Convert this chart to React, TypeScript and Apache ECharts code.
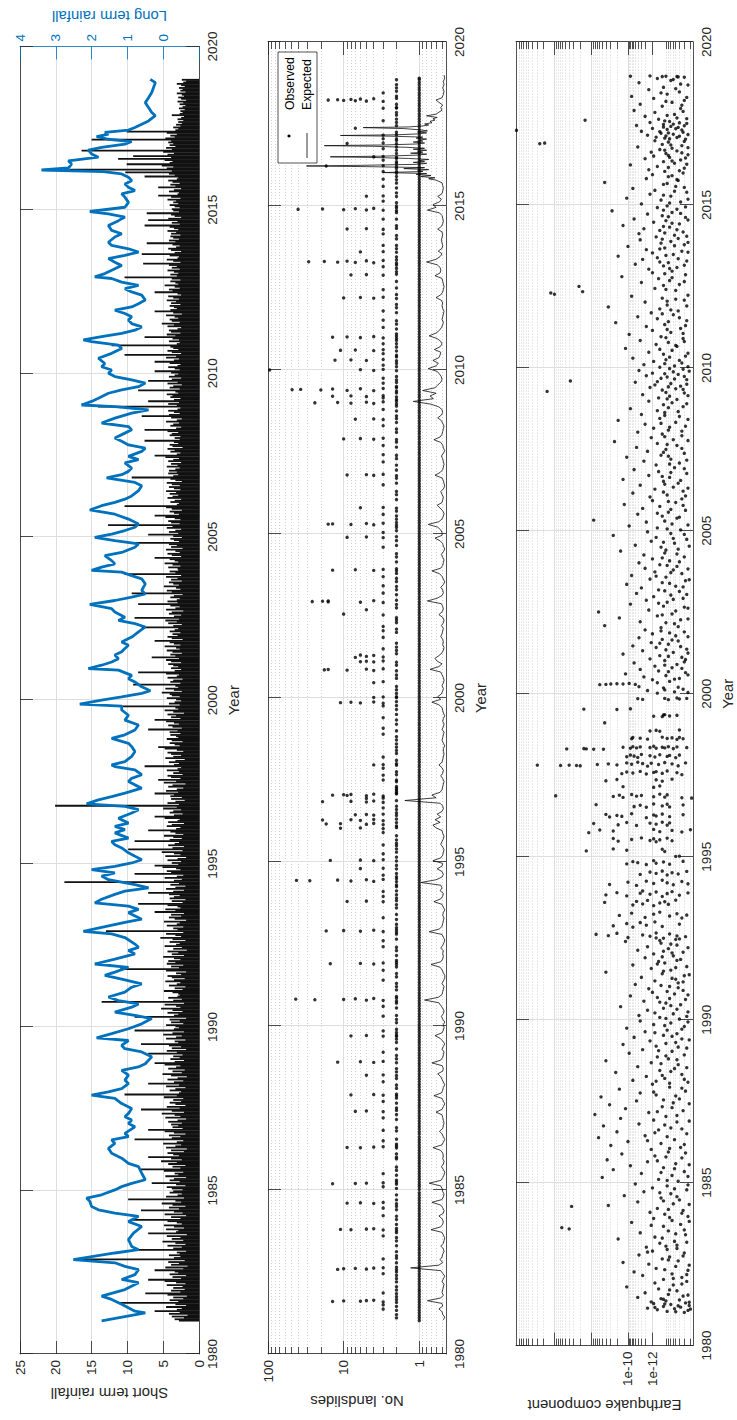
import React, { useEffect, useRef } from "react";
import * as echarts from "echarts";

// ---------- data ----------
const YEAR_MIN = 1980;
const YEAR_MAX = 2020;
const FIRST_YEAR = 1981;

// Short term rainfall: half-monthly peaks, one row per year from 1981
const shortRain: number[][] = [
  [2.8, 3.4, 2.1, 3.8, 1.6, 4.2, 2.7, 6.2, 3.1, 2.4, 4.6, 1.8, 3.3, 11.3, 2.9, 4.1, 2.2, 3.6, 1.7, 4.4, 7.5, 2.6, 3.9, 2.0],
  [3.6, 2.3, 4.5, 1.9, 3.2, 4.8, 7.1, 2.5, 3.7, 1.8, 4.1, 2.9, 3.4, 6.2, 2.2, 4.7, 1.6, 3.9, 2.8, 4.3, 2.0, 16.9, 3.5, 2.6],
  [4.2, 2.7, 3.1, 1.8, 8.5, 3.6, 2.4, 4.4, 1.9, 3.3, 5.1, 2.2, 3.8, 2.6, 4.5, 1.7, 7.1, 3.2, 2.9, 4.6, 2.1, 3.5, 4.9, 2.4],
  [3.1, 4.4, 9.3, 2.6, 3.9, 1.8, 4.8, 2.3, 3.5, 8.1, 2.8, 4.2, 1.9, 3.7, 5.2, 2.5, 3.3, 9.9, 2.1, 4.6, 3.0, 2.4, 4.1, 3.6],
  [2.3, 3.8, 4.5, 1.9, 3.2, 6.6, 2.7, 4.1, 3.5, 1.8, 4.7, 2.9, 3.4, 2.2, 4.9, 8.1, 2.6, 3.7, 1.9, 4.3, 3.1, 5.3, 2.4, 3.9],
  [7.1, 2.8, 3.6, 4.4, 2.1, 3.9, 1.7, 4.6, 3.3, 2.5, 5.0, 3.1, 2.2, 9.0, 3.8, 2.6, 4.2, 1.9, 3.5, 4.8, 7.1, 2.3, 3.7, 2.9],
  [3.9, 2.4, 4.3, 3.0, 1.8, 4.7, 2.6, 3.4, 5.2, 2.1, 3.8, 8.1, 2.7, 4.5, 1.9, 3.3, 4.1, 2.5, 3.6, 2.2, 4.9, 3.1, 10.4, 2.8],
  [2.5, 4.1, 3.3, 1.9, 4.6, 2.8, 7.1, 3.5, 2.2, 4.4, 3.0, 1.7, 3.9, 5.1, 2.4, 3.7, 2.0, 4.3, 3.2, 2.6, 4.8, 6.2, 3.4, 2.1],
  [4.0, 2.7, 3.6, 2.3, 7.1, 3.1, 4.5, 1.8, 3.8, 2.5, 4.2, 8.1, 2.9, 3.4, 1.9, 4.6, 3.2, 2.4, 5.0, 3.7, 2.1, 9.0, 3.5, 2.8],
  [3.3, 4.6, 2.2, 3.9, 2.7, 4.1, 1.8, 9.0, 3.5, 2.9, 4.4, 2.3, 3.7, 5.3, 2.6, 3.2, 4.8, 2.1, 13.6, 3.6, 2.4, 4.3, 3.0, 2.7],
  [2.9, 3.7, 4.9, 2.3, 3.4, 1.9, 4.2, 3.1, 2.6, 4.7, 3.5, 2.0, 3.8, 4.4, 2.5, 3.2, 1.8, 4.6, 11.0, 2.8, 3.9, 2.2, 4.5, 3.3],
  [4.3, 2.6, 3.5, 5.0, 2.1, 3.8, 2.9, 4.4, 1.7, 3.6, 2.4, 4.8, 3.2, 2.7, 4.1, 1.9, 3.7, 5.4, 2.5, 3.3, 4.6, 2.2, 13.0, 3.0],
  [3.6, 2.2, 4.5, 3.1, 2.7, 4.9, 1.8, 3.4, 4.2, 2.5, 3.9, 2.1, 6.2, 3.3, 4.7, 2.6, 3.0, 4.4, 8.5, 2.3, 3.8, 1.9, 4.1, 3.5],
  [2.7, 4.2, 7.1, 3.6, 2.1, 4.6, 3.3, 1.9, 4.0, 2.8, 18.8, 3.5, 2.4, 4.8, 3.1, 2.2, 9.0, 3.9, 4.5, 2.6, 3.2, 5.1, 6.2, 2.9],
  [3.8, 2.5, 4.4, 3.0, 1.8, 4.7, 2.6, 3.5, 5.2, 2.3, 9.9, 3.7, 2.1, 4.3, 3.4, 2.8, 9.0, 4.1, 2.4, 3.6, 4.9, 2.2, 3.3, 4.0],
  [7.1, 3.2, 2.6, 4.5, 3.8, 2.1, 4.3, 3.0, 2.7, 4.8, 6.2, 3.5, 2.3, 4.1, 3.6, 2.5, 5.0, 3.1, 20.1, 2.8, 4.4, 3.3, 2.0, 3.9],
  [2.4, 4.0, 3.5, 6.2, 2.9, 4.6, 3.1, 2.2, 4.3, 3.7, 1.9, 4.9, 3.2, 5.7, 2.6, 3.9, 4.4, 2.3, 3.6, 2.8, 4.5, 3.0, 2.5, 7.6],
  [3.5, 2.8, 4.2, 3.3, 2.0, 4.7, 3.6, 2.5, 3.9, 4.4, 2.2, 3.1, 4.8, 5.7, 2.7, 3.4, 4.1, 2.3, 3.8, 4.5, 2.9, 3.2, 4.0, 2.6],
  [4.1, 3.0, 7.1, 2.4, 3.7, 4.3, 2.8, 3.5, 4.6, 6.2, 2.6, 3.9, 3.2, 4.4, 2.1, 3.6, 4.8, 2.9, 3.3, 11.1, 2.7, 4.2, 3.4, 2.5],
  [3.2, 4.5, 2.7, 3.8, 4.1, 5.2, 2.4, 3.5, 4.7, 2.9, 3.3, 9.2, 2.6, 4.0, 3.6, 2.3, 4.4, 3.1, 2.8, 4.6, 8.5, 3.4, 2.5, 3.9],
  [2.9, 3.6, 4.3, 2.5, 3.9, 4.6, 2.8, 6.6, 3.3, 4.0, 2.4, 3.7, 4.5, 2.7, 3.2, 4.8, 2.6, 3.5, 4.1, 6.2, 2.3, 3.8, 4.4, 3.0],
  [3.7, 2.6, 4.1, 3.4, 2.9, 8.0, 3.6, 2.4, 4.3, 3.1, 4.7, 2.8, 9.0, 3.5, 2.5, 4.2, 3.8, 2.2, 4.6, 3.3, 2.7, 4.0, 8.5, 3.0],
  [4.4, 3.1, 2.7, 4.0, 3.5, 2.3, 9.4, 3.8, 4.5, 2.6, 3.2, 4.9, 2.8, 3.6, 4.2, 2.4, 3.9, 3.0, 4.6, 2.5, 10.4, 3.3, 4.1, 2.9],
  [3.0, 4.3, 2.6, 3.7, 4.8, 2.9, 3.4, 4.1, 6.2, 2.5, 3.8, 4.4, 2.7, 3.3, 4.6, 2.3, 3.9, 3.1, 4.2, 9.4, 2.8, 3.5, 4.0, 2.4],
  [3.6, 7.1, 2.9, 4.2, 3.3, 2.5, 4.5, 3.7, 12.7, 2.7, 3.9, 4.3, 2.6, 3.4, 4.7, 6.2, 2.8, 3.5, 4.1, 2.4, 3.8, 4.6, 10.4, 3.1],
  [2.8, 4.0, 3.4, 2.5, 4.4, 3.7, 2.9, 4.1, 3.2, 4.6, 2.6, 3.5, 4.2, 2.7, 3.8, 4.5, 2.4, 3.3, 4.0, 9.4, 3.6, 2.9, 4.3, 3.1],
  [4.2, 3.3, 2.7, 4.5, 3.0, 3.9, 2.5, 4.3, 3.6, 2.8, 4.7, 6.2, 3.1, 2.6, 4.0, 3.4, 4.4, 2.3, 3.7, 4.1, 2.9, 3.5, 7.6, 2.7],
  [3.4, 2.6, 4.1, 3.8, 2.9, 4.4, 7.6, 3.2, 2.5, 4.0, 3.6, 2.8, 4.6, 3.1, 2.4, 3.9, 8.0, 4.2, 2.7, 3.5, 4.3, 3.0, 2.6, 14.1],
  [3.1, 4.3, 2.8, 7.1, 3.5, 2.6, 4.0, 3.7, 4.5, 2.9, 3.3, 8.5, 2.7, 4.1, 3.6, 2.4, 4.4, 3.0, 7.1, 3.8, 2.5, 4.2, 3.4, 2.9],
  [3.9, 6.2, 2.7, 3.4, 4.3, 3.0, 2.6, 4.1, 6.2, 3.5, 2.8, 4.6, 3.2, 10.4, 2.5, 3.8, 4.4, 2.9, 3.6, 4.0, 12.2, 3.1, 2.7, 4.2],
  [2.8, 3.7, 7.6, 3.3, 4.5, 2.6, 3.9, 4.2, 3.0, 2.5, 4.4, 3.5, 5.2, 2.7, 3.8, 4.1, 2.9, 3.4, 4.6, 2.4, 3.6, 6.2, 4.0, 3.1],
  [3.5, 4.1, 2.6, 3.9, 3.2, 4.5, 2.8, 3.6, 4.3, 2.5, 3.0, 6.2, 3.7, 4.2, 2.7, 3.4, 4.8, 2.9, 3.3, 4.0, 2.6, 3.8, 10.4, 3.1],
  [4.0, 2.9, 3.5, 4.4, 2.7, 3.8, 3.1, 4.2, 7.8, 2.6, 3.6, 4.5, 3.0, 2.8, 4.1, 8.0, 3.4, 2.5, 3.9, 4.3, 3.2, 2.7, 3.7, 7.3],
  [3.3, 4.2, 2.8, 3.6, 4.0, 2.6, 3.9, 3.2, 4.4, 2.9, 3.5, 4.1, 7.6, 2.7, 3.8, 3.0, 7.1, 4.3, 2.5, 3.4, 3.9, 7.3, 2.8, 3.6],
  [3.8, 2.7, 3.4, 4.1, 2.9, 3.6, 3.2, 4.4, 2.6, 3.9, 5.7, 3.0, 2.8, 4.2, 3.5, 2.5, 5.7, 3.3, 4.0, 2.7, 3.7, 4.3, 3.1, 2.9],
  [7.6, 3.4, 4.2, 10.3, 3.8, 18.1, 4.5, 3.6, 5.2, 10.1, 4.1, 3.7, 4.8, 11.3, 3.9, 9.2, 4.4, 3.5, 5.0, 16.4, 3.8, 4.6, 3.3, 4.1],
  [3.6, 4.3, 3.9, 15.0, 4.7, 3.4, 4.0, 3.1, 4.5, 10.1, 3.3, 2.9, 3.6, 2.6, 3.2, 2.4, 2.9, 2.2, 3.0, 2.5, 2.1, 3.8, 2.7, 2.3],
  [2.6, 2.0, 2.8, 2.3, 1.9, 2.7, 2.2, 3.0, 1.8, 2.5, 2.9, 2.1, 2.4, 3.1, 1.9, 2.6, 2.3, 2.8, 2.0, 2.5, 3.1, 2.2, 1.8, 2.4],
];

// Long term rainfall: [decimal year, value]
const longRain: number[][] = [
  [1981.01, 1.72], [1981.26, 0.5], [1981.31, 0.79], [1981.52, 1.16], [1981.67, 1.44], [1981.77, 1.72], [1981.97, 1.07],
  [1982.18, 0.69], [1982.28, 1.16], [1982.43, 0.79], [1982.58, 0.69], [1982.68, 1.07], [1982.79, 1.35], [1982.89, 2.51],
  [1983.09, 1.35], [1983.19, 0.69], [1983.29, 0.88], [1983.5, 0.97], [1983.7, 0.83], [1983.9, 0.6], [1984.05, 0.97],
  [1984.21, 0.69], [1984.31, 1.35], [1984.41, 1.81], [1984.51, 2.0], [1984.67, 2.05], [1984.77, 2.14], [1984.87, 1.72],
  [1985.02, 1.35], [1985.12, 1.16], [1985.22, 0.88], [1985.33, 0.5], [1985.53, 0.6], [1985.73, 0.69], [1985.83, 0.97],
  [1985.99, 1.16], [1986.14, 1.44], [1986.29, 1.53], [1986.44, 1.35], [1986.55, 1.44], [1986.65, 0.97], [1986.75, 1.07],
  [1986.95, 0.79], [1987.05, 0.97], [1987.16, 0.88], [1987.26, 1.07], [1987.36, 0.97], [1987.51, 0.88], [1987.66, 1.16],
  [1987.82, 1.35], [1987.92, 2.0], [1988.02, 1.53], [1988.12, 1.16], [1988.27, 0.97], [1988.38, 1.07], [1988.53, 0.97],
  [1988.68, 1.16], [1988.78, 0.69], [1988.88, 0.5], [1989.09, 0.32], [1989.24, 0.6], [1989.34, 1.07], [1989.44, 1.16],
  [1989.59, 0.97], [1989.67, 1.86], [1989.8, 1.44], [1989.95, 0.97], [1990.1, 0.6], [1990.26, 0.32], [1990.36, 0.79],
  [1990.46, 1.35], [1990.61, 0.88], [1990.71, 0.69], [1990.81, 1.25], [1990.92, 1.53], [1991.07, 1.07], [1991.22, 0.88],
  [1991.32, 0.6], [1991.47, 1.16], [1991.58, 1.63], [1991.68, 1.35], [1991.83, 0.97], [1991.93, 1.91], [1992.08, 1.35],
  [1992.24, 0.79], [1992.34, 0.97], [1992.44, 0.69], [1992.54, 0.79], [1992.74, 1.07], [1992.85, 1.44], [1992.93, 2.23],
  [1993.05, 1.72], [1993.2, 1.07], [1993.3, 0.6], [1993.5, 0.97], [1993.6, 0.69], [1993.7, 0.97], [1993.8, 1.91],
  [1993.91, 1.72], [1994.06, 1.35], [1994.16, 1.07], [1994.26, 0.41], [1994.36, 0.79], [1994.51, 1.53], [1994.62, 1.72],
  [1994.72, 1.35], [1994.82, 2.0], [1994.92, 1.35], [1995.02, 0.88], [1995.12, 0.6], [1995.23, 0.79], [1995.33, 0.97],
  [1995.48, 1.16], [1995.58, 1.35], [1995.68, 1.44], [1995.78, 0.97], [1995.94, 1.35], [1996.04, 1.07], [1996.14, 1.35],
  [1996.24, 0.97], [1996.39, 1.25], [1996.55, 0.88], [1996.65, 0.69], [1996.75, 1.07], [1996.83, 2.14], [1996.95, 1.81],
  [1997.05, 1.44], [1997.16, 1.07], [1997.31, 0.6], [1997.41, 0.79], [1997.51, 0.97], [1997.61, 0.88], [1997.72, 0.6],
  [1997.87, 0.79], [1997.97, 1.35], [1998.02, 1.44], [1998.12, 1.07], [1998.28, 0.88], [1998.43, 0.79], [1998.58, 0.88],
  [1998.68, 0.97], [1998.83, 1.44], [1998.94, 1.07], [1999.09, 0.79], [1999.24, 0.69], [1999.39, 1.07], [1999.54, 0.97],
  [1999.7, 1.16], [1999.82, 1.16], [1999.88, 2.33], [2000.0, 1.72], [2000.1, 1.16], [2000.21, 0.6], [2000.29, 0.36],
  [2000.41, 0.6], [2000.56, 0.79], [2000.66, 0.97], [2000.76, 0.88], [2000.92, 1.25], [2000.97, 2.09], [2001.07, 1.72],
  [2001.17, 1.44], [2001.27, 1.25], [2001.38, 1.35], [2001.48, 1.16], [2001.58, 1.07], [2001.68, 0.97], [2001.78, 1.16],
  [2001.93, 0.88], [2002.09, 0.69], [2002.24, 0.5], [2002.34, 0.79], [2002.44, 1.25], [2002.54, 1.07], [2002.7, 1.35],
  [2002.8, 1.44], [2002.93, 2.05], [2003.05, 1.35], [2003.15, 0.88], [2003.25, 0.5], [2003.36, 0.6], [2003.56, 0.5],
  [2003.71, 0.6], [2003.81, 0.88], [2003.92, 1.16], [2003.97, 2.0], [2004.07, 1.72], [2004.17, 1.35], [2004.27, 1.44],
  [2004.42, 1.63], [2004.52, 1.16], [2004.68, 0.79], [2004.78, 0.69], [2004.88, 1.35], [2004.98, 1.91], [2005.08, 1.44],
  [2005.19, 1.07], [2005.29, 0.79], [2005.39, 0.69], [2005.54, 0.97], [2005.69, 1.35], [2005.82, 2.05], [2005.95, 1.72],
  [2006.05, 1.35], [2006.15, 1.07], [2006.25, 0.88], [2006.41, 0.69], [2006.56, 0.6], [2006.66, 0.79], [2006.8, 1.58],
  [2006.9, 1.16], [2007.0, 0.97], [2007.1, 0.88], [2007.26, 1.07], [2007.36, 0.69], [2007.46, 0.97], [2007.61, 0.6],
  [2007.71, 0.5], [2007.81, 0.97], [2007.92, 1.16], [2008.02, 1.35], [2008.17, 1.07], [2008.27, 0.88], [2008.37, 0.97],
  [2008.48, 1.72], [2008.63, 1.35], [2008.78, 0.88], [2008.88, 0.41], [2008.98, 1.35], [2009.03, 2.28], [2009.14, 2.0],
  [2009.24, 1.81], [2009.39, 1.53], [2009.49, 1.16], [2009.59, 0.69], [2009.7, 0.5], [2009.8, 0.88], [2009.9, 1.35],
  [2010.0, 1.53], [2010.1, 1.44], [2010.2, 1.72], [2010.3, 1.63], [2010.46, 1.81], [2010.61, 1.44], [2010.76, 1.16],
  [2010.86, 1.25], [2010.97, 2.0], [2011.02, 2.23], [2011.12, 1.72], [2011.22, 1.16], [2011.32, 0.79], [2011.42, 0.6],
  [2011.52, 0.88], [2011.63, 0.97], [2011.73, 0.88], [2011.83, 1.07], [2011.93, 1.35], [2012.03, 0.88], [2012.13, 0.69],
  [2012.24, 0.5], [2012.39, 0.6], [2012.49, 0.88], [2012.59, 1.07], [2012.69, 0.69], [2012.79, 1.16], [2012.9, 1.44],
  [2012.95, 1.91], [2013.05, 1.63], [2013.2, 1.35], [2013.3, 1.16], [2013.4, 1.35], [2013.51, 1.53], [2013.61, 1.07],
  [2013.71, 0.69], [2013.81, 0.97], [2013.91, 1.44], [2014.01, 1.53], [2014.17, 1.35], [2014.27, 1.16], [2014.37, 1.44],
  [2014.52, 1.53], [2014.67, 1.25], [2014.78, 1.07], [2014.88, 1.53], [2014.95, 2.05], [2015.08, 1.07], [2015.23, 0.97],
  [2015.39, 1.07], [2015.49, 1.16], [2015.59, 0.79], [2015.69, 0.97], [2015.79, 1.07], [2015.89, 0.88], [2016.0, 0.97],
  [2016.1, 1.16], [2016.17, 1.67], [2016.22, 3.4], [2016.28, 2.65], [2016.4, 2.56], [2016.5, 2.65], [2016.61, 1.81],
  [2016.71, 2.0], [2016.83, 2.09], [2016.91, 1.72], [2017.01, 1.07], [2017.09, 0.88], [2017.16, 1.53], [2017.24, 1.86],
  [2017.32, 1.53], [2017.37, 1.63], [2017.44, 0.97], [2017.52, 0.79], [2017.62, 0.6], [2017.72, 0.41], [2017.88, 0.22],
  [2017.98, 0.32], [2018.13, 0.41], [2018.28, 0.5], [2018.43, 0.41], [2018.59, 0.32], [2018.74, 0.27], [2018.89, 0.22],
  [2018.99, 0.36],
];

// Days with a single landslide: fractions of each year, one row per year from 1981
const singleSlideDays: number[][] = [
  [0.02, 0.1, 0.18, 0.26, 0.34, 0.42, 0.5, 0.58, 0.66, 0.74, 0.82, 0.9, 0.97],
  [0.05, 0.13, 0.21, 0.29, 0.37, 0.45, 0.53, 0.61, 0.69, 0.77, 0.85, 0.93],
  [0.01, 0.09, 0.17, 0.24, 0.32, 0.4, 0.48, 0.56, 0.64, 0.72, 0.8, 0.88, 0.96],
  [0.04, 0.12, 0.2, 0.28, 0.36, 0.44, 0.52, 0.6, 0.68, 0.76, 0.84, 0.92],
  [0.02, 0.1, 0.17, 0.25, 0.33, 0.41, 0.49, 0.57, 0.65, 0.73, 0.81, 0.89, 0.97],
  [0.05, 0.13, 0.21, 0.29, 0.37, 0.45, 0.53, 0.61, 0.7, 0.78, 0.86, 0.94],
  [0.02, 0.1, 0.18, 0.26, 0.34, 0.42, 0.5, 0.58, 0.66, 0.74, 0.82, 0.9, 0.98],
  [0.06, 0.14, 0.22, 0.3, 0.38, 0.46, 0.54, 0.62, 0.7, 0.78, 0.86, 0.94],
  [0.02, 0.1, 0.18, 0.26, 0.34, 0.42, 0.5, 0.58, 0.66, 0.74, 0.82, 0.9, 0.97],
  [0.05, 0.13, 0.21, 0.29, 0.37, 0.45, 0.53, 0.61, 0.69, 0.77, 0.85, 0.93],
  [0.01, 0.09, 0.17, 0.25, 0.33, 0.41, 0.49, 0.57, 0.65, 0.73, 0.81, 0.89, 0.97],
  [0.05, 0.13, 0.21, 0.29, 0.37, 0.45, 0.53, 0.61, 0.69, 0.77, 0.85, 0.93],
  [0.01, 0.09, 0.17, 0.25, 0.33, 0.41, 0.49, 0.57, 0.65, 0.73, 0.81, 0.89, 0.97],
  [0.05, 0.13, 0.21, 0.29, 0.37, 0.45, 0.53, 0.61, 0.69, 0.77, 0.85, 0.93],
  [0.01, 0.09, 0.17, 0.25, 0.33, 0.41, 0.49, 0.57, 0.65, 0.73, 0.81, 0.89, 0.97],
  [0.05, 0.13, 0.21, 0.29, 0.37, 0.45, 0.53, 0.61, 0.69, 0.77, 0.85, 0.93],
  [0.01, 0.09, 0.17, 0.25, 0.33, 0.41, 0.49, 0.57, 0.65, 0.73, 0.81, 0.89, 0.97],
  [0.05, 0.13, 0.21, 0.29, 0.37, 0.45, 0.53, 0.61, 0.69, 0.77, 0.85, 0.93],
  [0.01, 0.09, 0.17, 0.25, 0.33, 0.41, 0.49, 0.57, 0.65, 0.73, 0.81, 0.89, 0.97],
  [0.05, 0.13, 0.21, 0.29, 0.37, 0.45, 0.53, 0.61, 0.69, 0.77, 0.85, 0.93],
  [0.01, 0.09, 0.17, 0.25, 0.33, 0.41, 0.49, 0.57, 0.65, 0.73, 0.81, 0.89, 0.97],
  [0.05, 0.13, 0.21, 0.29, 0.37, 0.45, 0.53, 0.61, 0.69, 0.77, 0.85, 0.93],
  [0.01, 0.09, 0.17, 0.25, 0.33, 0.41, 0.49, 0.57, 0.65, 0.73, 0.81, 0.89, 0.97],
  [0.05, 0.13, 0.21, 0.29, 0.37, 0.45, 0.53, 0.61, 0.69, 0.77, 0.85, 0.93],
  [0.01, 0.09, 0.17, 0.25, 0.33, 0.41, 0.49, 0.57, 0.65, 0.73, 0.81, 0.89, 0.97],
  [0.05, 0.13, 0.21, 0.29, 0.37, 0.45, 0.53, 0.61, 0.69, 0.77, 0.85, 0.93],
  [0.01, 0.09, 0.17, 0.25, 0.33, 0.41, 0.49, 0.57, 0.65, 0.73, 0.81, 0.89, 0.97],
  [0.05, 0.13, 0.21, 0.29, 0.37, 0.45, 0.53, 0.61, 0.69, 0.77, 0.85, 0.93],
  [0.01, 0.09, 0.17, 0.25, 0.33, 0.41, 0.49, 0.57, 0.65, 0.73, 0.81, 0.89, 0.97],
  [0.05, 0.13, 0.21, 0.29, 0.37, 0.45, 0.53, 0.61, 0.69, 0.77, 0.85, 0.93],
  [0.01, 0.09, 0.17, 0.25, 0.33, 0.41, 0.49, 0.57, 0.65, 0.73, 0.81, 0.89, 0.97],
  [0.05, 0.13, 0.21, 0.29, 0.37, 0.45, 0.53, 0.61, 0.69, 0.77, 0.85, 0.93],
  [0.01, 0.09, 0.17, 0.25, 0.33, 0.41, 0.49, 0.57, 0.65, 0.73, 0.81, 0.89, 0.97],
  [0.05, 0.13, 0.21, 0.29, 0.37, 0.45, 0.53, 0.61, 0.69, 0.77, 0.85, 0.93],
  [0.01, 0.09, 0.17, 0.25, 0.33, 0.41, 0.49, 0.57, 0.65, 0.73, 0.81, 0.89, 0.97],
  [0.05, 0.13, 0.21, 0.29, 0.37, 0.45, 0.53, 0.61, 0.69, 0.77, 0.85, 0.93],
  [0.01, 0.09, 0.17, 0.25, 0.33, 0.41, 0.49, 0.57, 0.65, 0.73, 0.81, 0.89, 0.97],
  [0.05, 0.13, 0.21, 0.29, 0.37, 0.45, 0.53, 0.61, 0.69, 0.77, 0.85, 0.9],
];

// Days with two landslides
const doubleSlideDays: number[] = [
  1981.2, 1981.45, 1981.75, 1981.95, 1982.05, 1982.3, 1982.4, 1982.5, 1982.78, 1983.0, 1983.12, 1983.45, 1983.55, 1983.7,
  1983.95, 1984.1, 1984.4, 1984.5, 1984.7, 1984.85, 1985.05, 1985.3, 1985.45, 1985.6, 1985.95, 1986.0, 1986.1, 1986.4,
  1986.55, 1986.9, 1987.15, 1987.3, 1987.5, 1987.65, 1987.8, 1988.1, 1988.2, 1988.4, 1988.6, 1988.7, 1989.0, 1989.1,
  1989.5, 1989.6, 1989.8, 1989.9, 1990.1, 1990.2, 1990.55, 1990.7, 1990.9, 1991.1, 1991.2, 1991.5, 1991.6, 1991.8,
  1992.0, 1992.15, 1992.3, 1992.65, 1992.8, 1993.0, 1993.1, 1993.25, 1993.6, 1993.7, 1993.9, 1994.0, 1994.25, 1994.3,
  1994.55, 1994.65, 1994.9, 1995.15, 1995.3, 1995.4, 1995.8, 1996.1, 1996.2, 1996.5, 1996.6, 1996.7, 1997.15, 1997.25,
  1997.5, 1997.75, 1998.0, 1998.1, 1998.4, 1998.5, 1998.6, 1999.0, 1999.2, 1999.5, 1999.65, 2000.35, 2000.6, 2000.7,
  2001.0, 2001.35, 2001.45, 2001.55, 2002.0, 2002.1, 2002.3, 2002.45, 2002.75, 2002.85, 2003.15, 2003.3, 2003.55,
  2003.65, 2003.8, 2004.15, 2004.3, 2004.65, 2004.8, 2005.1, 2005.2, 2005.45, 2005.55, 2005.7, 2006.05, 2006.2, 2006.55,
  2006.7, 2006.95, 2007.1, 2007.3, 2007.65, 2007.8, 2008.1, 2008.2, 2008.4, 2008.6, 2008.75, 2008.9, 2009.1, 2009.3,
  2009.5, 2009.7, 2009.8, 2010.1, 2010.2, 2010.4, 2010.45, 2010.7, 2010.8, 2010.9, 2011.1, 2011.25, 2011.4, 2011.75,
  2011.9, 2012.0, 2012.3, 2012.5, 2012.7, 2013.0, 2013.1, 2013.2, 2013.45, 2013.7, 2013.8, 2014.0, 2014.1, 2014.4,
  2014.6, 2014.8, 2015.0, 2015.1, 2015.4, 2015.55, 2015.7, 2015.9, 2016.0, 2016.05, 2016.15, 2016.3, 2016.35, 2016.45,
  2016.6, 2016.7, 2016.8, 2017.0, 2017.05, 2017.25, 2017.45, 2017.55, 2017.65, 2017.85, 2018.0, 2018.1, 2018.35, 2018.5,
  2018.6, 2018.7, 2018.85,
];

// Days with three landslides
const tripleSlideDays: number[] = [
  1981.5, 1982.45, 1983.6, 1984.45, 1985.1, 1985.5, 1986.5, 1987.2, 1987.7, 1988.3, 1989.2, 1989.85, 1990.6, 1991.4,
  1991.7, 1992.6, 1993.3, 1993.95, 1994.6, 1995.25, 1995.9, 1996.65, 1997.5, 1998.2, 1998.9, 1999.4, 2000.5, 2001.5,
  2002.05, 2003.2, 2003.7, 2004.6, 2005.05, 2005.6, 2006.5, 2007.2, 2007.7, 2008.3, 2008.8, 2009.15, 2009.75, 2010.15,
  2010.5, 2010.8, 2011.3, 2011.8, 2012.45, 2013.15, 2013.8, 2014.15, 2014.6, 2015.15, 2015.6, 2016.05, 2016.4, 2016.75,
  2017.05, 2017.6, 2018.45,
];

// Storm days with several landslides: [decimal year, count]
const stormSlides: number[][] = [
  [1981.1, 2], [1981.33, 2], [1981.37, 3],
  [1981.6, 14], [1981.62, 10], [1981.61, 6], [1981.63, 5], [1981.64, 4], [1981.59, 3], [1981.66, 2], [1981.57, 2],
  [1981.84, 2], [1981.86, 3], [1982.2, 2],
  [1982.58, 12], [1982.6, 10], [1982.61, 7], [1982.59, 5], [1982.62, 4], [1982.63, 3], [1982.57, 2], [1982.65, 2],
  [1982.9, 3], [1982.92, 2], [1983.3, 2],
  [1983.8, 11], [1983.79, 8], [1983.81, 5], [1983.82, 4], [1983.78, 3], [1983.83, 2], [1983.76, 2],
  [1984.2, 2], [1984.22, 3], [1984.6, 9], [1984.61, 6], [1984.59, 4], [1984.62, 3], [1984.58, 2],
  [1985.19, 14], [1985.2, 7], [1985.21, 5], [1985.22, 3], [1985.18, 2], [1985.24, 2], [1985.7, 2],
  [1986.3, 9], [1986.29, 6], [1986.31, 4], [1986.32, 3], [1986.28, 2], [1986.34, 2], [1986.8, 2], [1986.82, 3],
  [1987.4, 7], [1987.41, 5], [1987.39, 3], [1987.43, 2], [1987.9, 8], [1987.91, 4], [1987.89, 3], [1987.92, 2], [1987.87, 2],
  [1988.5, 5], [1988.51, 3], [1988.49, 2], [1988.9, 12], [1988.91, 6], [1988.89, 4], [1988.92, 3], [1988.88, 2],
  [1989.3, 2], [1989.7, 8], [1989.71, 5], [1989.69, 3], [1989.72, 2], [1989.68, 2], [1990.3, 3], [1990.32, 2],
  [1990.82, 43], [1990.8, 24], [1990.81, 10], [1990.83, 7], [1990.79, 5], [1990.84, 4], [1990.78, 3], [1990.85, 2], [1990.76, 2],
  [1991.3, 2], [1991.9, 15], [1991.91, 6], [1991.89, 4], [1991.92, 3], [1991.88, 2], [1991.94, 2], [1992.4, 2], [1992.42, 3],
  [1992.9, 17], [1992.91, 10], [1992.89, 6], [1992.92, 4], [1992.88, 3], [1992.93, 2], [1992.86, 2],
  [1993.4, 2], [1993.8, 9], [1993.81, 5], [1993.79, 3], [1993.82, 2], [1994.1, 3], [1994.12, 2],
  [1994.44, 42], [1994.43, 28], [1994.45, 12], [1994.42, 8], [1994.46, 5], [1994.41, 4], [1994.47, 3], [1994.4, 2], [1994.49, 2],
  [1994.8, 6], [1994.81, 3], [1994.79, 2], [1995.05, 15], [1995.06, 6], [1995.04, 4], [1995.07, 3], [1995.03, 2],
  [1995.5, 2], [1995.52, 3], [1995.57, 2], [1995.67, 2],
  [1996.03, 11], [1996.04, 6], [1996.02, 3], [1996.05, 2], [1996.16, 17], [1996.17, 11], [1996.15, 5], [1996.18, 4], [1996.14, 3],
  [1996.28, 19], [1996.29, 8], [1996.27, 6], [1996.3, 4], [1996.26, 3], [1996.31, 2],
  [1996.44, 7], [1996.45, 5], [1996.43, 4], [1996.46, 3], [1996.42, 2],
  [1996.84, 19], [1996.85, 8], [1996.83, 5], [1996.86, 4], [1996.82, 3], [1996.87, 2], [1996.94, 5], [1996.95, 3],
  [1997.04, 14], [1997.05, 10], [1997.03, 9], [1997.06, 8], [1997.02, 5], [1997.07, 4], [1997.01, 3], [1997.08, 2],
  [1997.1, 2], [1997.2, 2], [1997.3, 2], [1997.45, 2], [1997.65, 3], [1997.66, 2], [1997.86, 3],
  [1997.96, 4], [1997.97, 3], [1997.95, 2], [1998.31, 2], [1998.72, 2], [1998.82, 2], [1999.08, 3], [1999.33, 2],
  [1999.76, 3], [1999.77, 2], [1999.86, 11], [1999.87, 8], [1999.85, 6], [1999.88, 4], [1999.84, 3], [1999.89, 2],
  [2000.02, 4], [2000.03, 3], [2000.01, 2], [2000.04, 2], [2000.14, 2], [2000.25, 2], [2000.47, 4],
  [2000.86, 18], [2000.87, 16], [2000.85, 9], [2000.88, 5], [2000.84, 4], [2000.89, 3], [2000.83, 2],
  [2001.11, 6], [2001.12, 5], [2001.1, 4], [2001.13, 3], [2001.09, 2], [2001.24, 7], [2001.31, 6], [2001.27, 5], [2001.3, 4], [2001.25, 3],
  [2001.67, 2], [2001.85, 3], [2002.18, 3], [2002.38, 2], [2002.53, 3], [2002.56, 10], [2002.69, 5],
  [2002.94, 26], [2002.95, 19], [2002.93, 16], [2002.96, 16], [2002.92, 6], [2002.97, 4], [2002.91, 3], [2002.98, 2],
  [2003.4, 2], [2003.42, 3], [2003.9, 14], [2003.91, 7], [2003.89, 4], [2003.92, 3], [2003.88, 2], [2003.94, 2],
  [2004.4, 2], [2004.9, 9], [2004.91, 5], [2004.89, 3], [2004.92, 2],
  [2005.3, 16], [2005.31, 14], [2005.29, 8], [2005.32, 5], [2005.28, 4], [2005.33, 3], [2005.27, 2], [2005.35, 2],
  [2005.8, 6], [2005.81, 3], [2005.79, 2], [2006.3, 2], [2006.8, 9], [2006.81, 5], [2006.79, 4], [2006.82, 3], [2006.78, 2],
  [2007.4, 2], [2007.42, 3], [2007.9, 10], [2007.91, 6], [2007.89, 4], [2007.92, 3], [2007.88, 2],
  [2008.5, 7], [2008.51, 4], [2008.49, 3], [2008.52, 2],
  [2009.0, 24], [2009.01, 12], [2008.99, 8], [2009.02, 5], [2008.98, 4], [2009.03, 3], [2008.97, 2], [2009.05, 2],
  [2009.2, 14], [2009.21, 8], [2009.19, 5], [2009.22, 3], [2009.18, 2],
  [2009.4, 48], [2009.41, 37], [2009.39, 20], [2009.42, 14], [2009.38, 9], [2009.43, 6], [2009.37, 4], [2009.44, 3], [2009.36, 2], [2009.46, 2],
  [2009.6, 3], [2009.62, 2], [2010.0, 95], [2010.01, 6], [2009.99, 4], [2010.02, 3], [2009.98, 2],
  [2010.3, 13], [2010.31, 8], [2010.29, 5], [2010.32, 3], [2010.28, 2],
  [2010.6, 11], [2010.61, 7], [2010.59, 4], [2010.62, 3], [2010.58, 2],
  [2011.0, 14], [2011.01, 9], [2010.99, 6], [2011.02, 4], [2010.98, 3], [2011.03, 2], [2010.96, 2],
  [2011.5, 2], [2011.52, 3], [2012.2, 10], [2012.21, 6], [2012.19, 4], [2012.22, 3], [2012.18, 2],
  [2012.9, 8], [2012.91, 5], [2012.89, 3], [2012.92, 2],
  [2013.3, 29], [2013.31, 18], [2013.29, 12], [2013.32, 9], [2013.28, 7], [2013.33, 5], [2013.27, 4], [2013.34, 3], [2013.26, 2], [2013.36, 2],
  [2013.6, 6], [2013.61, 3], [2013.59, 2], [2014.3, 9], [2014.31, 5], [2014.29, 3], [2014.32, 2],
  [2014.9, 40], [2014.91, 19], [2014.89, 10], [2014.92, 7], [2014.88, 5], [2014.93, 4], [2014.87, 3], [2014.94, 2], [2014.86, 2],
  [2015.3, 5], [2015.31, 3], [2015.29, 2], [2015.8, 2], [2015.82, 3],
  [2016.22, 17], [2016.23, 3], [2016.21, 2], [2016.5, 4], [2016.51, 3], [2016.49, 2], [2016.91, 9], [2016.92, 3], [2016.9, 2],
  [2017.16, 3], [2017.17, 2], [2017.37, 7], [2017.77, 2], [2017.98, 3], [2017.99, 2],
  [2018.23, 16], [2018.24, 12], [2018.22, 10], [2018.25, 8], [2018.21, 7], [2018.26, 6], [2018.2, 5], [2018.27, 4], [2018.19, 3], [2018.28, 2],
];

// Expected landslides: monthly values, one row per year from 1981 (2015 to September)
const expectedMonthly: number[][] = [
  [0.48, 0.46, 0.49, 0.5, 0.55, 0.49, 0.5, 0.78, 0.52, 0.48, 0.5, 0.49],
  [0.48, 0.47, 0.5, 0.48, 0.46, 0.49, 0.52, 1.3, 0.55, 0.49, 0.53, 0.5],
  [0.49, 0.47, 0.48, 0.52, 0.48, 0.47, 0.46, 0.48, 0.5, 0.7, 0.52, 0.49],
  [0.48, 0.5, 0.55, 0.48, 0.47, 0.49, 0.52, 0.68, 0.5, 0.48, 0.47, 0.49],
  [0.5, 0.52, 0.74, 0.52, 0.49, 0.47, 0.46, 0.48, 0.51, 0.48, 0.47, 0.49],
  [0.48, 0.49, 0.52, 0.66, 0.5, 0.48, 0.46, 0.48, 0.5, 0.54, 0.49, 0.48],
  [0.47, 0.48, 0.49, 0.5, 0.6, 0.5, 0.48, 0.46, 0.48, 0.5, 0.64, 0.51],
  [0.49, 0.48, 0.46, 0.48, 0.5, 0.52, 0.57, 0.49, 0.48, 0.5, 0.68, 0.52],
  [0.49, 0.48, 0.47, 0.5, 0.48, 0.46, 0.49, 0.53, 0.62, 0.5, 0.48, 0.47],
  [0.48, 0.46, 0.49, 0.51, 0.48, 0.47, 0.49, 0.52, 0.55, 0.85, 0.56, 0.5],
  [0.49, 0.48, 0.47, 0.5, 0.48, 0.46, 0.46, 0.48, 0.5, 0.53, 0.7, 0.52],
  [0.49, 0.48, 0.49, 0.48, 0.52, 0.49, 0.47, 0.46, 0.48, 0.5, 0.74, 0.54],
  [0.5, 0.49, 0.48, 0.47, 0.49, 0.48, 0.46, 0.48, 0.5, 0.64, 0.52, 0.49],
  [0.48, 0.53, 0.5, 0.52, 0.95, 0.6, 0.5, 0.48, 0.5, 0.58, 0.5, 0.49],
  [0.66, 0.52, 0.49, 0.48, 0.47, 0.49, 0.52, 0.5, 0.48, 0.47, 0.49, 0.5],
  [0.6, 0.66, 0.53, 0.62, 0.52, 0.58, 0.5, 0.48, 0.49, 0.53, 1.55, 0.6],
  [0.68, 0.53, 0.5, 0.49, 0.48, 0.47, 0.49, 0.52, 0.49, 0.48, 0.5, 0.55],
  [0.5, 0.49, 0.48, 0.47, 0.48, 0.48, 0.46, 0.48, 0.5, 0.49, 0.48, 0.47],
  [0.5, 0.48, 0.47, 0.49, 0.48, 0.46, 0.48, 0.49, 0.5, 0.55, 0.68, 0.52],
  [0.57, 0.51, 0.49, 0.48, 0.5, 0.48, 0.47, 0.48, 0.5, 0.52, 0.72, 0.55],
  [0.5, 0.58, 0.62, 0.55, 0.5, 0.48, 0.47, 0.49, 0.48, 0.49, 0.52, 0.5],
  [0.49, 0.48, 0.51, 0.48, 0.47, 0.49, 0.55, 0.5, 0.48, 0.49, 0.51, 0.78],
  [0.58, 0.5, 0.48, 0.49, 0.52, 0.48, 0.46, 0.48, 0.5, 0.54, 0.68, 0.52],
  [0.49, 0.48, 0.47, 0.49, 0.51, 0.48, 0.46, 0.48, 0.49, 0.53, 0.62, 0.5],
  [0.5, 0.52, 0.57, 0.76, 0.55, 0.5, 0.48, 0.47, 0.49, 0.53, 0.58, 0.5],
  [0.49, 0.48, 0.5, 0.52, 0.48, 0.46, 0.47, 0.48, 0.5, 0.62, 0.53, 0.49],
  [0.48, 0.47, 0.48, 0.49, 0.51, 0.48, 0.46, 0.48, 0.49, 0.52, 0.64, 0.53],
  [0.5, 0.49, 0.48, 0.47, 0.49, 0.51, 0.57, 0.51, 0.49, 0.5, 0.55, 0.7],
  [1.2, 0.65, 0.72, 0.6, 0.9, 0.62, 0.57, 0.52, 0.5, 0.51, 0.54, 0.58],
  [0.76, 0.6, 0.56, 0.66, 0.55, 0.53, 0.52, 0.63, 0.53, 0.5, 0.52, 0.58],
  [0.74, 0.6, 0.54, 0.51, 0.49, 0.48, 0.5, 0.49, 0.48, 0.47, 0.49, 0.5],
  [0.49, 0.51, 0.6, 0.52, 0.49, 0.48, 0.47, 0.48, 0.49, 0.5, 0.62, 0.53],
  [0.52, 0.53, 0.58, 0.8, 0.6, 0.53, 0.5, 0.56, 0.5, 0.49, 0.5, 0.51],
  [0.5, 0.49, 0.5, 0.57, 0.51, 0.49, 0.48, 0.49, 0.5, 0.54, 0.78, 0.6],
  [0.66, 0.54, 0.51, 0.57, 0.5, 0.49, 0.48, 0.49, 0.5],
];

// Expected landslides through the 2016 wet period and after: [decimal year, value]
const expectedRecent: number[][] = [
  [2015.79, 0.6], [2015.83, 0.75], [2015.86, 0.62], [2015.9, 0.95], [2015.93, 0.7], [2015.96, 1.1], [2015.99, 0.8],
  [2016.02, 3.0], [2016.05, 0.9], [2016.08, 1.05], [2016.11, 0.75], [2016.14, 1.6], [2016.17, 0.85], [2016.2, 5],
  [2016.22, 31], [2016.24, 6], [2016.27, 1.1], [2016.3, 0.8], [2016.33, 1.2], [2016.36, 0.85], [2016.39, 1.0],
  [2016.42, 0.75], [2016.45, 1.4], [2016.48, 4], [2016.5, 15], [2016.52, 3], [2016.55, 1.1], [2016.58, 0.8],
  [2016.61, 1.3], [2016.64, 0.9], [2016.67, 1.05], [2016.7, 0.8], [2016.73, 1.2], [2016.76, 0.85], [2016.79, 1.5],
  [2016.82, 4], [2016.84, 18], [2016.86, 3], [2016.89, 1.1], [2016.92, 0.85], [2016.95, 1.2], [2016.98, 0.9],
  [2017.01, 1.0], [2017.04, 0.8], [2017.07, 1.1], [2017.1, 0.9], [2017.13, 2.5], [2017.15, 11], [2017.17, 2.0],
  [2017.2, 1.0], [2017.23, 0.8], [2017.26, 1.05], [2017.29, 0.78], [2017.32, 0.95], [2017.36, 1.6], [2017.39, 5.5],
  [2017.41, 1.4], [2017.44, 0.9], [2017.47, 0.75], [2017.5, 0.85], [2017.54, 0.68], [2017.58, 0.72], [2017.62, 0.62],
  [2017.66, 0.66], [2017.7, 0.58], [2017.75, 0.8], [2017.8, 0.6], [2017.86, 0.55], [2017.92, 0.5], [2018.0, 0.52],
  [2018.08, 0.49], [2018.16, 0.55], [2018.23, 0.6], [2018.3, 0.5], [2018.4, 0.48], [2018.5, 0.47], [2018.6, 0.49],
  [2018.7, 0.47], [2018.8, 0.48], [2018.9, 0.46], [2018.99, 0.47],
];

// Earthquake component: [decimal year, log10 of the component]
const quakeLog: number[][] = [
  [1981.02, -14.6], [1981.05, -13.2], [1981.08, -14.9], [1981.1, -12.4], [1981.13, -13.8], [1981.15, -11.6], [1981.18, -14.3],
  [1981.2, -12.9], [1981.23, -15.0], [1981.26, -13.5], [1981.29, -12.1], [1981.31, -14.7], [1981.34, -11.9], [1981.37, -13.1],
  [1981.4, -14.2], [1981.44, -12.7], [1981.48, -10.8], [1981.52, -14.5], [1981.57, -13.3], [1981.62, -11.4], [1981.68, -14.0],
  [1981.74, -12.5], [1981.8, -9.9], [1981.86, -13.7], [1981.92, -12.2], [1981.97, -14.8],
  [1982.03, -12.9], [1982.09, -14.4], [1982.15, -11.2], [1982.2, -13.6], [1982.26, -10.5], [1982.31, -14.9], [1982.37, -12.3],
  [1982.43, -13.9], [1982.5, -11.7], [1982.55, -9.6], [1982.6, -14.1], [1982.66, -12.8], [1982.72, -13.4], [1982.78, -10.9],
  [1982.84, -14.6], [1982.9, -12.0], [1982.95, -13.2],
  [1983.02, -11.5], [1983.08, -14.0], [1983.14, -12.6], [1983.2, -13.8], [1983.27, -9.2], [1983.33, -12.2], [1983.4, -14.7],
  [1983.46, -11.0], [1983.52, -13.3], [1983.58, -5.2], [1983.62, -4.6], [1983.66, -12.9], [1983.72, -14.3], [1983.78, -10.3],
  [1983.84, -13.6], [1983.9, -12.1], [1983.96, -14.9],
  [1984.03, -13.0], [1984.09, -11.8], [1984.15, -14.5], [1984.21, -12.4], [1984.27, -5.4], [1984.3, -8.4], [1984.35, -13.7],
  [1984.41, -10.8], [1984.47, -14.2], [1984.53, -12.7], [1984.6, -9.7], [1984.66, -13.5], [1984.72, -11.3], [1984.78, -14.8],
  [1984.84, -12.0], [1984.9, -13.2], [1984.96, -10.6],
  [1985.04, -14.1], [1985.1, -12.5], [1985.16, -7.9], [1985.22, -13.6], [1985.28, -11.1], [1985.34, -14.6], [1985.4, -8.8],
  [1985.46, -12.9], [1985.52, -10.2], [1985.58, -13.9], [1985.64, -11.6], [1985.7, -8.3], [1985.76, -14.4], [1985.82, -12.2],
  [1985.88, -9.5], [1985.94, -13.3],
  [1986.02, -11.9], [1986.08, -14.3], [1986.14, -8.6], [1986.2, -12.7], [1986.26, -10.0], [1986.32, -13.8], [1986.38, -7.6],
  [1986.44, -11.4], [1986.5, -14.8], [1986.56, -9.1], [1986.62, -12.5], [1986.68, -13.5], [1986.74, -8.0], [1986.8, -10.9],
  [1986.86, -14.0], [1986.92, -12.1], [1986.97, -9.4],
  [1987.03, -13.1], [1987.09, -7.3], [1987.15, -11.7], [1987.21, -14.5], [1987.27, -9.8], [1987.33, -12.8], [1987.39, -8.5],
  [1987.45, -13.7], [1987.51, -10.7], [1987.57, -14.2], [1987.63, -7.8], [1987.69, -12.3], [1987.75, -11.0], [1987.81, -14.7],
  [1987.87, -9.3], [1987.93, -13.4],
  [1988.02, -12.0], [1988.08, -14.9], [1988.14, -10.4], [1988.2, -13.0], [1988.26, -11.5], [1988.32, -14.4], [1988.38, -9.0],
  [1988.44, -12.6], [1988.5, -13.8], [1988.56, -10.8], [1988.62, -14.1], [1988.68, -11.9], [1988.74, -8.2], [1988.8, -13.3],
  [1988.86, -12.4], [1988.92, -14.6], [1988.97, -10.1],
  [1989.03, -13.6], [1989.08, -11.2], [1989.13, -14.8], [1989.19, -12.3], [1989.24, -9.6], [1989.3, -13.9], [1989.35, -11.8],
  [1989.41, -14.4], [1989.46, -10.5], [1989.52, -12.9], [1989.57, -14.0], [1989.63, -11.4], [1989.68, -13.2], [1989.74, -9.9],
  [1989.79, -14.6], [1989.85, -12.1], [1989.9, -13.5], [1989.96, -11.0],
  [1990.02, -14.2], [1990.07, -12.6], [1990.13, -10.9], [1990.18, -13.7], [1990.24, -14.9], [1990.29, -11.6], [1990.35, -12.9],
  [1990.4, -9.4], [1990.46, -14.3], [1990.51, -13.1], [1990.57, -11.3], [1990.62, -14.7], [1990.68, -12.4], [1990.73, -10.2],
  [1990.79, -13.8], [1990.84, -12.0], [1990.9, -14.5], [1990.95, -11.7],
  [1991.02, -13.4], [1991.08, -10.6], [1991.13, -14.1], [1991.19, -12.2], [1991.24, -13.9], [1991.3, -11.1], [1991.35, -14.6],
  [1991.41, -12.8], [1991.46, -8.2], [1991.52, -13.5], [1991.57, -11.9], [1991.63, -14.8], [1991.68, -10.4], [1991.74, -13.0],
  [1991.79, -12.5], [1991.85, -14.3], [1991.9, -11.4], [1991.96, -13.7],
  [1992.02, -12.1], [1992.07, -14.5], [1992.13, -10.8], [1992.18, -13.3], [1992.24, -11.6], [1992.29, -14.0], [1992.35, -12.7],
  [1992.4, -9.8], [1992.46, -13.9], [1992.51, -12.3], [1992.55, -14.7],
  [1992.62, -7.4], [1992.58, -8.4], [1992.65, -9.1], [1992.52, -10.0], [1992.6, -11.2], [1992.56, -11.8], [1992.66, -12.3],
  [1992.5, -12.9], [1992.63, -13.4], [1992.57, -14.0],
  [1992.88, -8.8], [1992.95, -9.9], [1992.84, -10.4], [1992.98, -11.0], [1992.9, -11.5], [1993.0, -12.2], [1992.86, -12.8], [1992.93, -14.2],
  [1993.2, -9.3], [1993.27, -10.3], [1993.14, -11.4], [1993.24, -12.1], [1993.3, -12.6], [1993.18, -13.4], [1993.25, -14.0],
  [1993.12, -14.4], [1993.21, -14.8],
  [1993.6, -8.1], [1993.52, -10.4], [1993.63, -10.7], [1993.55, -11.2], [1993.66, -11.6], [1993.5, -12.1], [1993.58, -12.6],
  [1993.62, -13.0], [1993.54, -13.3], [1993.67, -13.9],
  [1993.83, -8.2], [1993.9, -9.1], [1993.8, -9.9], [1993.88, -11.0], [1993.95, -11.2], [1993.85, -11.8], [1993.92, -12.3],
  [1993.78, -12.8], [1993.87, -13.2], [1993.93, -13.6], [1993.82, -14.2], [1993.89, -14.9],
  [1994.15, -8.5], [1994.22, -10.0], [1994.12, -10.7], [1994.25, -11.5], [1994.18, -12.1], [1994.28, -12.8], [1994.2, -13.2],
  [1994.14, -13.7], [1994.24, -14.4], [1994.17, -14.9],
  [1994.46, -11.0], [1994.53, -11.8], [1994.49, -12.3], [1994.56, -12.8], [1994.44, -13.2], [1994.51, -13.6], [1994.47, -14.1], [1994.55, -14.8],
  [1994.78, -9.9], [1994.85, -10.4], [1994.82, -10.8], [1994.76, -11.5], [1994.88, -12.1], [1994.8, -12.3], [1994.84, -12.9],
  [1994.77, -13.4], [1994.86, -14.5],
  [1995.01, -13.9], [1995.02, -14.2], [1995.18, -6.6], [1995.24, -8.8], [1995.2, -9.9], [1995.23, -12.8], [1995.16, -13.0],
  [1995.56, -8.8], [1995.48, -9.2], [1995.53, -10.3], [1995.58, -11.1], [1995.5, -11.8], [1995.55, -12.1], [1995.46, -12.3],
  [1995.52, -12.6], [1995.57, -13.2], [1995.49, -13.6],
  [1995.74, -6.8], [1995.82, -7.7], [1995.79, -8.8], [1995.84, -12.1], [1995.77, -12.6], [1995.81, -13.6], [1995.76, -14.4], [1995.83, -15.1],
  [1996.02, -7.2], [1995.98, -9.2], [1996.05, -9.9], [1995.96, -10.7], [1996.03, -11.8], [1996.0, -12.3], [1996.06, -12.8],
  [1995.97, -13.2], [1996.04, -13.4],
  [1996.3, -8.2], [1996.22, -8.5], [1996.27, -9.1], [1996.24, -9.5], [1996.32, -10.3], [1996.2, -11.5], [1996.28, -12.1],
  [1996.25, -12.3], [1996.31, -12.8], [1996.23, -13.4], [1996.29, -14.5],
  [1996.6, -7.4], [1996.54, -10.5], [1996.58, -11.0], [1996.52, -11.5], [1996.62, -12.1], [1996.56, -12.8], [1996.61, -13.2],
  [1996.53, -13.4], [1996.59, -14.5],
  [1996.87, -4.1], [1996.85, -8.8], [1996.89, -9.3], [1996.82, -9.6], [1996.91, -10.3], [1996.86, -10.7], [1996.88, -11.1],
  [1996.84, -12.1], [1996.92, -12.6], [1996.83, -13.0], [1996.9, -13.2], [1996.81, -14.4], [1996.8, -15.2],
  [1997.15, -9.6], [1997.13, -12.1], [1997.17, -12.6],
  [1997.33, -8.2], [1997.37, -9.1], [1997.36, -12.3], [1997.32, -12.8], [1997.38, -13.6],
  [1997.55, -9.5], [1997.6, -9.9], [1997.57, -10.4], [1997.62, -11.0], [1997.54, -11.5], [1997.59, -12.1], [1997.61, -12.3],
  [1997.56, -12.8], [1997.63, -13.2], [1997.58, -14.0], [1997.52, -14.4],
  [1997.81, -2.6], [1997.8, -4.5], [1997.81, -5.2], [1997.8, -5.8], [1997.79, -6.1], [1997.83, -7.5], [1997.85, -8.4],
  [1997.82, -9.1], [1997.88, -9.9], [1997.84, -10.3], [1997.9, -10.8], [1997.86, -11.2], [1997.78, -11.6], [1997.87, -11.9],
  [1997.83, -12.5], [1997.89, -13.0], [1997.85, -13.6], [1997.79, -14.1], [1997.88, -14.7],
  [1998.07, -9.9], [1998.12, -10.2], [1998.09, -10.5], [1998.05, -10.8], [1998.14, -11.1], [1998.1, -11.8], [1998.06, -12.2],
  [1998.13, -12.6], [1998.08, -13.2], [1998.11, -13.4], [1998.04, -13.9], [1998.12, -14.2],
  [1998.31, -5.0], [1998.32, -6.4], [1998.31, -6.6], [1998.3, -7.2], [1998.3, -8.0], [1998.36, -9.6], [1998.33, -10.2],
  [1998.38, -10.4], [1998.34, -10.7], [1998.37, -11.0], [1998.35, -11.8], [1998.39, -12.1], [1998.33, -12.3], [1998.36, -12.8],
  [1998.34, -13.0], [1998.38, -13.3], [1998.32, -13.7], [1998.37, -14.0], [1998.35, -14.8],
  [1998.62, -10.3], [1998.66, -10.4], [1998.64, -11.0], [1998.61, -11.6], [1998.67, -12.8], [1998.63, -13.2], [1998.65, -13.6],
  [1998.6, -14.0], [1998.66, -14.2], [1998.62, -14.5],
  [1998.86, -11.8], [1998.88, -12.3], [1998.85, -12.6], [1998.89, -14.2], [1999.11, -8.1],
  [1999.31, -12.1], [1999.35, -12.9], [1999.32, -13.4], [1999.34, -14.0], [1999.3, -12.8], [1999.36, -13.0],
  [1999.53, -6.4], [1999.52, -9.1], [1999.54, -10.2],
  [1999.85, -10.8], [1999.83, -11.2], [1999.86, -13.0], [1999.82, -13.3], [1999.87, -14.0], [1999.84, -14.2], [1999.86, -14.8],
  [2000.28, -7.7], [2000.29, -8.2], [2000.3, -8.6], [2000.31, -9.1], [2000.3, -9.6], [2000.32, -10.1], [2000.29, -10.6],
  [2000.02, -12.4], [2000.06, -13.8], [2000.1, -11.6], [2000.14, -14.5], [2000.18, -12.9], [2000.22, -10.9], [2000.38, -13.4],
  [2000.43, -12.0], [2000.47, -14.2], [2000.52, -11.3], [2000.56, -13.1], [2000.61, -9.8], [2000.65, -14.7], [2000.7, -12.5],
  [2000.75, -11.0], [2000.8, -13.6], [2000.85, -12.2], [2000.9, -14.0], [2000.95, -10.5],
  [2001.02, -13.0], [2001.07, -11.8], [2001.12, -14.4], [2001.17, -12.6], [2001.22, -9.6], [2001.27, -13.7], [2001.32, -11.2],
  [2001.37, -14.8], [2001.42, -12.3], [2001.47, -10.4], [2001.52, -13.3], [2001.57, -11.9], [2001.62, -14.1], [2001.67, -12.8],
  [2001.72, -10.9], [2001.78, -13.9], [2001.84, -12.0], [2001.9, -14.6], [2001.96, -11.4],
  [2002.03, -12.7], [2002.09, -8.1], [2002.15, -13.8], [2002.21, -11.0], [2002.27, -14.3], [2002.33, -9.3], [2002.39, -12.4],
  [2002.45, -13.6], [2002.51, -7.6], [2002.57, -11.7], [2002.63, -14.9], [2002.69, -12.9], [2002.75, -10.2], [2002.81, -13.2],
  [2002.87, -11.5], [2002.93, -14.5], [2002.98, -12.1],
  [2003.03, -13.5], [2003.08, -10.7], [2003.14, -14.2], [2003.19, -12.5], [2003.25, -11.1], [2003.3, -13.9], [2003.36, -9.9],
  [2003.41, -12.8], [2003.47, -14.7], [2003.52, -11.8], [2003.58, -13.1], [2003.63, -10.3], [2003.69, -14.4], [2003.74, -12.2],
  [2003.8, -13.7], [2003.85, -11.4], [2003.91, -14.0], [2003.96, -12.6],
  [2004.02, -10.9], [2004.08, -13.4], [2004.14, -12.0], [2004.2, -14.6], [2004.26, -11.3], [2004.32, -13.0], [2004.38, -9.4],
  [2004.44, -14.1], [2004.5, -12.7], [2004.56, -10.6], [2004.62, -13.8], [2004.68, -11.9], [2004.74, -14.8], [2004.8, -12.3],
  [2004.86, -8.8], [2004.92, -13.5], [2004.97, -11.6],
  [2005.03, -14.3], [2005.09, -12.4], [2005.15, -10.1], [2005.21, -13.6], [2005.27, -11.5], [2005.33, -7.2], [2005.39, -14.0],
  [2005.45, -12.8], [2005.51, -10.8], [2005.57, -13.3], [2005.63, -14.7], [2005.69, -11.2], [2005.75, -12.6], [2005.81, -9.7],
  [2005.87, -13.9], [2005.93, -12.0], [2005.98, -14.4],
  [2006.04, -11.8], [2006.1, -13.2], [2006.16, -10.4], [2006.22, -14.5], [2006.28, -12.2], [2006.34, -13.7], [2006.4, -11.0],
  [2006.46, -14.1], [2006.52, -12.9], [2006.58, -9.6], [2006.64, -13.4], [2006.7, -11.7], [2006.76, -14.8], [2006.82, -12.5],
  [2006.88, -10.5], [2006.94, -13.8],
  [2007.02, -12.3], [2007.08, -14.2], [2007.14, -11.3], [2007.2, -13.5], [2007.26, -9.9], [2007.32, -12.7], [2007.38, -14.6],
  [2007.44, -11.6], [2007.5, -13.1], [2007.56, -10.7], [2007.62, -14.0], [2007.68, -12.4], [2007.74, -8.9], [2007.8, -13.7],
  [2007.86, -11.9], [2007.92, -14.4], [2007.97, -12.8],
  [2008.03, -10.8], [2008.09, -13.3], [2008.15, -12.1], [2008.21, -14.7], [2008.27, -11.4], [2008.33, -13.9], [2008.39, -9.2],
  [2008.45, -12.6], [2008.51, -14.2], [2008.57, -11.1], [2008.63, -13.0], [2008.69, -12.4], [2008.75, -10.2], [2008.81, -14.5],
  [2008.87, -12.9], [2008.93, -13.6], [2008.98, -11.7],
  [2009.03, -14.0], [2009.08, -12.5], [2009.13, -13.4], [2009.18, -11.2], [2009.23, -14.6], [2009.28, -3.4], [2009.32, -12.8],
  [2009.36, -13.9], [2009.4, -11.8], [2009.44, -14.3], [2009.48, -12.2], [2009.52, -13.5], [2009.56, -10.6], [2009.6, -5.3],
  [2009.64, -14.8], [2009.68, -12.7], [2009.72, -13.2], [2009.76, -11.5], [2009.8, -14.1], [2009.84, -12.0], [2009.88, -13.7],
  [2009.92, -10.9], [2009.96, -14.5],
  [2010.02, -12.6], [2010.06, -13.8], [2010.1, -11.3], [2010.15, -14.4], [2010.2, -12.1], [2010.25, -13.1], [2010.3, -10.4],
  [2010.36, -14.7], [2010.42, -12.9], [2010.48, -11.7], [2010.54, -13.6], [2010.6, -9.8], [2010.66, -14.0], [2010.72, -12.3],
  [2010.78, -13.3], [2010.84, -11.0], [2010.9, -14.5], [2010.96, -12.7],
  [2011.03, -10.1], [2011.09, -13.5], [2011.15, -12.0], [2011.21, -14.3], [2011.27, -11.5], [2011.33, -13.0], [2011.39, -9.0],
  [2011.45, -14.8], [2011.51, -12.4], [2011.57, -10.8], [2011.63, -13.7], [2011.69, -11.9], [2011.75, -14.1], [2011.81, -12.6],
  [2011.87, -8.4], [2011.93, -13.2],
  [2012.02, -11.4], [2012.08, -14.6], [2012.14, -12.8], [2012.2, -10.3], [2012.26, -4.0], [2012.3, -3.7], [2012.34, -6.3],
  [2012.38, -13.9], [2012.44, -12.2], [2012.5, -6.0], [2012.56, -14.2], [2012.62, -11.1], [2012.68, -13.4], [2012.74, -12.5],
  [2012.8, -9.5], [2012.86, -14.7], [2012.92, -12.0], [2012.97, -13.6],
  [2013.03, -11.7], [2013.08, -14.0], [2013.13, -12.9], [2013.18, -10.6], [2013.23, -13.3], [2013.28, -14.8], [2013.33, -11.2],
  [2013.38, -12.4], [2013.43, -9.2], [2013.48, -13.7], [2013.53, -12.0], [2013.58, -14.4], [2013.63, -11.5], [2013.68, -13.0],
  [2013.73, -10.0], [2013.78, -14.6], [2013.83, -12.7], [2013.88, -13.5], [2013.93, -11.0], [2013.97, -14.1],
  [2014.02, -12.3], [2014.07, -13.8], [2014.12, -10.9], [2014.17, -14.5], [2014.22, -12.6], [2014.27, -11.3], [2014.32, -13.4],
  [2014.37, -9.6], [2014.42, -14.2], [2014.47, -12.1], [2014.52, -13.1], [2014.57, -10.5], [2014.62, -14.7], [2014.67, -12.8],
  [2014.72, -11.6], [2014.77, -13.6], [2014.82, -8.7], [2014.87, -14.0], [2014.92, -12.4], [2014.97, -13.2],
  [2015.03, -11.1], [2015.09, -14.3], [2015.15, -12.7], [2015.21, -9.9], [2015.27, -13.5], [2015.33, -11.8], [2015.39, -14.8],
  [2015.45, -12.2], [2015.51, -10.4], [2015.57, -13.9], [2015.63, -12.9], [2015.69, -8.1], [2015.75, -14.1], [2015.81, -11.5],
  [2015.87, -13.3], [2015.93, -12.0], [2015.98, -14.5],
  [2016.03, -13.0], [2016.08, -11.7], [2016.13, -14.6], [2016.18, -12.4], [2016.23, -10.2], [2016.28, -13.8], [2016.33, -12.9],
  [2016.38, -14.3], [2016.42, -11.4], [2016.46, -13.4], [2016.5, -12.1], [2016.54, -14.9], [2016.58, -13.1], [2016.62, -11.9],
  [2016.66, -14.0], [2016.7, -12.6], [2016.74, -13.6], [2016.78, -10.8], [2016.82, -14.4], [2016.86, -12.8], [2016.88, -2.8],
  [2016.9, -3.2], [2016.93, -13.3], [2016.97, -12.2],
  [2017.02, -14.7], [2017.05, -13.0], [2017.08, -12.3], [2017.11, -14.2], [2017.14, -11.6], [2017.17, -13.7], [2017.2, -12.7],
  [2017.23, -14.5], [2017.26, -11.1], [2017.29, -0.9], [2017.32, -13.2], [2017.35, -12.0], [2017.38, -14.1], [2017.41, -13.5],
  [2017.44, -10.7], [2017.47, -12.9], [2017.5, -14.8], [2017.53, -11.8], [2017.56, -13.4], [2017.6, -6.5], [2017.63, -12.5],
  [2017.67, -14.0], [2017.72, -11.4], [2017.78, -13.8], [2017.84, -12.2], [2017.9, -10.5], [2017.96, -14.3],
  [2018.03, -12.8], [2018.09, -11.0], [2018.15, -13.6], [2018.21, -14.6], [2018.27, -12.1], [2018.33, -10.3], [2018.4, -13.2],
  [2018.47, -14.2], [2018.54, -11.7], [2018.61, -12.9], [2018.68, -14.9], [2018.75, -10.9], [2018.82, -13.5], [2018.88, -12.4],
  [2018.94, -14.0], [2018.95, -10.2], [2018.96, -11.8], [2018.94, -12.8], [2018.95, -13.1], [2018.93, -14.1], [2018.92, -14.6],
];

// Further earthquake-component days in the dense small-value band: [decimal year, log10 value]
const quakeLogDense: number[][] = [
  [1981.04, -13.9], [1981.12, -15.1], [1981.17, -12.2], [1981.22, -14.1], [1981.28, -13.0], [1981.33, -15.0], [1981.42, -12.9],
  [1981.55, -14.9], [1981.71, -13.4], [1981.89, -14.4],
  [1982.06, -13.7], [1982.18, -14.8], [1982.33, -13.0], [1982.47, -15.0], [1982.63, -13.3], [1982.75, -14.5], [1982.87, -11.6], [1982.98, -14.0],
  [1983.05, -13.1], [1983.17, -14.8], [1983.3, -12.8], [1983.43, -13.9], [1983.55, -14.6], [1983.69, -11.9], [1983.81, -15.0], [1983.93, -13.4],
  [1984.06, -14.4], [1984.18, -13.3], [1984.33, -15.0], [1984.44, -12.9], [1984.57, -14.0], [1984.69, -12.6], [1984.81, -13.8], [1984.93, -14.9],
  [1985.07, -13.2], [1985.19, -14.9], [1985.31, -12.7], [1985.43, -13.8], [1985.55, -15.0], [1985.67, -12.4], [1985.79, -13.1], [1985.91, -14.7],
  [1986.05, -13.4], [1986.17, -14.6], [1986.29, -11.6], [1986.41, -13.2], [1986.53, -12.2], [1986.65, -14.4], [1986.77, -13.0], [1986.89, -15.0],
  [1987.06, -14.0], [1987.18, -12.4], [1987.3, -13.6], [1987.42, -15.0], [1987.54, -12.9], [1987.66, -13.9], [1987.78, -12.1], [1987.9, -14.4],
  [1988.05, -13.4], [1988.11, -12.3], [1988.17, -14.6], [1988.29, -12.8], [1988.41, -13.5], [1988.53, -14.8], [1988.65, -12.7],
  [1988.77, -14.0], [1988.89, -13.1],
  [1989.05, -12.5], [1989.16, -14.1], [1989.27, -13.1], [1989.38, -15.0], [1989.49, -13.6], [1989.6, -12.2], [1989.71, -14.4],
  [1989.82, -13.0], [1989.93, -14.9],
  [1990.04, -13.1], [1990.1, -14.8], [1990.21, -12.2], [1990.32, -14.0], [1990.43, -13.5], [1990.54, -12.6], [1990.65, -13.4],
  [1990.76, -14.9], [1990.87, -13.2], [1990.98, -14.1],
  [1991.05, -12.7], [1991.16, -14.5], [1991.27, -13.6], [1991.38, -15.0], [1991.49, -12.9], [1991.6, -13.9], [1991.71, -12.4],
  [1991.82, -14.0], [1991.93, -12.8],
  [1992.05, -13.6], [1992.1, -12.9], [1992.21, -14.9], [1992.32, -13.5], [1992.43, -12.6], [1992.48, -14.2],
  [2000.04, -14.9], [2000.12, -13.0], [2000.2, -14.1], [2000.34, -12.4], [2000.45, -13.8], [2000.58, -14.9], [2000.68, -13.3],
  [2000.78, -14.4], [2000.88, -13.0], [2000.98, -14.6],
  [2001.05, -14.7], [2001.15, -13.3], [2001.25, -14.9], [2001.35, -13.1], [2001.45, -14.3], [2001.55, -12.6], [2001.65, -13.6],
  [2001.75, -14.9], [2001.87, -13.4], [2001.93, -12.7],
  [2002.06, -14.1], [2002.18, -13.1], [2002.3, -14.9], [2002.42, -12.8], [2002.54, -13.9], [2002.66, -14.6], [2002.78, -12.5], [2002.9, -13.7],
  [2003.05, -14.8], [2003.16, -13.0], [2003.28, -14.5], [2003.39, -13.4], [2003.5, -15.0], [2003.61, -12.3], [2003.72, -13.5],
  [2003.83, -14.9], [2003.94, -13.2],
  [2004.05, -14.2], [2004.17, -12.8], [2004.29, -14.0], [2004.41, -13.1], [2004.53, -15.0], [2004.65, -12.9], [2004.77, -13.7], [2004.89, -14.6],
  [2005.06, -13.2], [2005.18, -14.9], [2005.3, -13.0], [2005.42, -14.2], [2005.54, -12.4], [2005.66, -13.5], [2005.78, -14.5], [2005.9, -13.3],
  [2006.07, -14.7], [2006.19, -12.9], [2006.31, -14.9], [2006.43, -13.0], [2006.55, -14.3], [2006.67, -12.8], [2006.79, -13.5], [2006.91, -14.6],
  [2007.05, -13.4], [2007.17, -14.8], [2007.29, -13.3], [2007.41, -12.9], [2007.53, -14.4], [2007.65, -13.2], [2007.77, -14.9], [2007.89, -13.0],
  [2008.06, -14.4], [2008.18, -13.4], [2008.3, -12.7], [2008.42, -14.9], [2008.54, -13.0], [2008.66, -14.1], [2008.78, -13.3], [2008.9, -14.8],
  [2009.05, -13.2], [2009.15, -14.9], [2009.25, -13.1], [2009.34, -14.5], [2009.42, -13.3], [2009.5, -14.8], [2009.58, -12.4],
  [2009.66, -13.8], [2009.74, -14.6], [2009.82, -13.0], [2009.9, -15.0], [2009.98, -13.4],
  [2010.04, -14.9], [2010.13, -13.0], [2010.23, -14.2], [2010.33, -13.4], [2010.45, -14.9], [2010.57, -12.6], [2010.69, -13.9],
  [2010.81, -14.6], [2010.93, -13.1],
  [2011.06, -14.5], [2011.18, -13.2], [2011.3, -14.7], [2011.42, -13.3], [2011.54, -14.2], [2011.66, -12.8], [2011.78, -13.5], [2011.9, -14.8],
  [2012.05, -13.2], [2012.11, -13.9], [2012.23, -14.9], [2012.41, -13.1], [2012.53, -12.9], [2012.65, -14.6], [2012.77, -13.6], [2012.89, -13.0],
  [2013.05, -13.4], [2013.15, -14.6], [2013.25, -12.6], [2013.35, -14.1], [2013.45, -13.1], [2013.55, -14.9], [2013.65, -12.6],
  [2013.75, -13.8], [2013.85, -14.9], [2013.95, -12.8],
  [2014.04, -14.8], [2014.14, -13.0], [2014.24, -14.0], [2014.34, -12.9], [2014.44, -13.6], [2014.54, -14.9], [2014.64, -13.3],
  [2014.74, -14.3], [2014.84, -12.9], [2014.94, -14.7],
  [2015.06, -13.4], [2015.18, -14.9], [2015.3, -12.9], [2015.42, -13.8], [2015.54, -14.6], [2015.66, -13.2], [2015.78, -14.0], [2015.9, -13.6],
  [2016.05, -14.2], [2016.15, -13.3], [2016.25, -14.8], [2016.35, -13.6], [2016.44, -14.7], [2016.52, -13.3], [2016.6, -14.4],
  [2016.68, -13.0], [2016.76, -14.9], [2016.84, -13.5], [2016.95, -14.6],
  [2017.03, -13.4], [2017.07, -14.0], [2017.12, -13.1], [2017.16, -14.9], [2017.21, -13.3], [2017.25, -12.6], [2017.3, -14.4],
  [2017.34, -13.9], [2017.39, -12.9], [2017.43, -14.6], [2017.48, -13.7], [2017.52, -14.2], [2017.58, -13.0], [2017.65, -14.8],
  [2017.75, -13.2], [2017.87, -14.5],
  [2018.06, -14.4], [2018.18, -13.1], [2018.3, -14.8], [2018.44, -12.7], [2018.57, -13.9], [2018.71, -14.3], [2018.85, -13.7],
];

// Earthquake axis ticks (log10 units)
const quakeMajorTicks = [-4, -7, -10, -12];
const quakeMinorTicks = [
  -3.1, -2.57, -2.19, -1.9, -1.67, -1.46, -1.29, -1.14,
  -6.1, -5.57, -5.19, -4.9, -4.67, -4.46, -4.29, -4.14,
  -9.1, -8.57, -8.19, -7.9, -7.67, -7.46, -7.29, -7.14,
  -11.4, -11.05, -10.8, -10.6, -10.44, -10.31, -10.19, -10.1,
  -15.1, -14.57, -14.19, -13.9, -13.67, -13.46, -13.29, -13.14,
];
const quakeLabelTicks = [-10, -12];

// Landslide axis ticks (counts)
const slideMajorTicks = [1, 10, 100];
const slideMinorTicks = [0.5, 0.6, 0.7, 0.8, 0.9, 2, 3, 4, 5, 6, 7, 8, 9, 20, 30, 40, 50, 60, 70, 80, 90];

// ---------- styling ----------
const FONT = "'Liberation Sans', Arial, Helvetica, sans-serif";
const INK = "#262626";
const BLUE = "#0072BD";
const GRID_C = "#dedede";
const MINOR_C = "#c8c8c8";
const TICK_LEN = 13;
const MINOR_LEN = 7;
const LABEL_SIZE = 13.5;
const NAME_SIZE = 14.9;
const LEGEND_SIZE = 12.2;

const W = 1420;
const H = 737;
const LEFT = 66;
const RIGHT = 42;
const panels = [
  { top: 20, height: 179 },
  { top: 268, height: 178 },
  { top: 516, height: 177 },
];

const LS_MIN = Math.log10(0.443);
const LS_MAX = 2;
const EQ_MIN = -15.31;
const EQ_MAX = -0.86;

function yearAxes(gridIndex: number) {
  const common = {
    type: "value",
    gridIndex,
    min: YEAR_MIN,
    max: YEAR_MAX,
    interval: 5,
    axisLine: { show: true, onZero: false, lineStyle: { color: INK, width: 0.8 } },
    axisTick: { show: true, inside: true, length: TICK_LEN, lineStyle: { color: INK, width: 0.8 } },
  };
  return [
    {
      ...common,
      position: "bottom",
      name: "Year",
      nameLocation: "middle",
      nameGap: 27,
      nameTextStyle: { fontFamily: FONT, fontSize: NAME_SIZE, color: INK },
      axisLabel: { show: true, margin: 6, fontFamily: FONT, fontSize: LABEL_SIZE, color: INK, formatter: (v: number) => String(v) },
      splitLine: { show: true, lineStyle: { color: GRID_C, width: 1 } },
    },
    { ...common, position: "top", axisLabel: { show: false }, splitLine: { show: false } },
  ];
}

function logAxes(
  gridIndex: number,
  min: number,
  max: number,
  majors: number[],
  minors: number[],
  labels: number[],
  fmt: (v: number) => string,
  name: string,
  nameGap: number
) {
  const base = { type: "value", gridIndex, min, max, axisLine: { show: false } };
  const tickStyle = { color: INK, width: 0.8 };
  return [
    {
      ...base,
      position: "left",
      axisLine: { show: true, onZero: false, lineStyle: { color: INK, width: 0.8 } },
      axisTick: { show: true, inside: true, length: TICK_LEN, customValues: majors, lineStyle: tickStyle },
      axisLabel: { show: true, margin: 6, customValues: labels, fontFamily: FONT, fontSize: LABEL_SIZE, color: INK, formatter: fmt },
      splitLine: { show: true, lineStyle: { color: GRID_C, width: 1 } },
      name,
      nameLocation: "middle",
      nameGap,
      nameTextStyle: { fontFamily: FONT, fontSize: NAME_SIZE, color: INK },
    },
    {
      ...base,
      position: "left",
      axisTick: { show: true, inside: true, length: MINOR_LEN, customValues: minors, lineStyle: tickStyle },
      axisLabel: { show: false },
      splitLine: { show: true, lineStyle: { color: MINOR_C, width: 0.8, type: [1, 2] } },
    },
    {
      ...base,
      position: "right",
      axisLine: { show: true, onZero: false, lineStyle: { color: INK, width: 0.8 } },
      axisTick: { show: true, inside: true, length: TICK_LEN, customValues: majors, lineStyle: tickStyle },
      axisLabel: { show: false },
      splitLine: { show: false },
    },
    {
      ...base,
      position: "right",
      axisTick: { show: true, inside: true, length: MINOR_LEN, customValues: minors, lineStyle: tickStyle },
      axisLabel: { show: false },
      splitLine: { show: false },
    },
  ];
}

function buildOption() {
  const rainBars: number[][] = [];
  shortRain.forEach((row, yi) => {
    row.forEach((v, j) => rainBars.push([FIRST_YEAR + yi + (j + 0.5) / row.length, v]));
  });

  const observed: number[][] = [];
  singleSlideDays.forEach((row, yi) => row.forEach((f) => observed.push([FIRST_YEAR + yi + f, 1])));
  doubleSlideDays.forEach((t) => observed.push([t, 2]));
  tripleSlideDays.forEach((t) => observed.push([t, 3]));
  stormSlides.forEach((p) => observed.push(p));

  const expected: number[][] = [];
  expectedMonthly.forEach((row, yi) => row.forEach((v, j) => expected.push([FIRST_YEAR + yi + (j + 0.5) / 12, v])));
  expectedRecent.forEach((p) => expected.push(p));

  const lg10 = (v: number) => Math.log10(v);

  const xAxis = [...yearAxes(0), ...yearAxes(1), ...yearAxes(2)];

  const yAxis = [
    {
      type: "value",
      gridIndex: 0,
      position: "left",
      min: 0,
      max: 25,
      interval: 5,
      axisLine: { show: true, onZero: false, lineStyle: { color: INK, width: 0.8 } },
      axisTick: { show: true, inside: true, length: TICK_LEN, lineStyle: { color: INK, width: 0.8 } },
      axisLabel: { margin: 6, fontFamily: FONT, fontSize: LABEL_SIZE, color: INK },
      splitLine: { show: true, lineStyle: { color: GRID_C, width: 1 } },
      name: "Short term rainfall",
      nameLocation: "middle",
      nameGap: 27,
      nameTextStyle: { fontFamily: FONT, fontSize: NAME_SIZE, color: INK },
    },
    {
      type: "value",
      gridIndex: 0,
      position: "right",
      min: -1,
      max: 4,
      interval: 1,
      axisLine: { show: true, onZero: false, lineStyle: { color: BLUE, width: 0.8 } },
      axisTick: { show: true, inside: true, length: TICK_LEN, lineStyle: { color: BLUE, width: 0.8 } },
      axisLabel: { margin: 5, fontFamily: FONT, fontSize: LABEL_SIZE, color: BLUE, formatter: (v: number) => (v < 0 ? "" : String(v)) },
      splitLine: { show: false },
      name: "Long term rainfall",
      nameLocation: "middle",
      nameGap: 19,
      nameTextStyle: { fontFamily: FONT, fontSize: NAME_SIZE, color: BLUE },
    },
    ...logAxes(
      1, LS_MIN, LS_MAX,
      slideMajorTicks.map(lg10), slideMinorTicks.map(lg10), slideMajorTicks.map(lg10),
      (v) => String(Math.round(Math.pow(10, v))), "No. landslides", 34
    ),
    ...logAxes(
      2, EQ_MIN, EQ_MAX, quakeMajorTicks, quakeMinorTicks, quakeLabelTicks,
      (v) => "1e" + Math.round(v), "Earthquake component", 46
    ),
  ];

  const series: any[] = [
    {
      type: "bar",
      name: "Short term rainfall",
      xAxisIndex: 0,
      yAxisIndex: 0,
      data: rainBars,
      barWidth: 1.8,
      itemStyle: { color: "#111" },
      z: 2,
    },
    {
      type: "line",
      name: "Long term rainfall",
      xAxisIndex: 0,
      yAxisIndex: 1,
      data: longRain,
      showSymbol: false,
      lineStyle: { color: BLUE, width: 2.8 },
      z: 3,
    },
    {
      type: "line",
      name: "Expected",
      xAxisIndex: 2,
      yAxisIndex: 2,
      data: expected.map(([t, v]) => [t, lg10(v)]),
      showSymbol: false,
      lineStyle: { color: "#111", width: 0.8 },
      z: 2,
    },
    {
      type: "scatter",
      name: "Observed",
      xAxisIndex: 2,
      yAxisIndex: 2,
      data: observed.map(([t, n]) => [t, lg10(n)]),
      symbolSize: 3.4,
      itemStyle: { color: "#000" },
      z: 3,
    },
    {
      type: "scatter",
      name: "Earthquake component",
      xAxisIndex: 4,
      yAxisIndex: 6,
      data: [...quakeLog, ...quakeLogDense],
      symbolSize: 3.4,
      itemStyle: { color: "#000" },
      z: 3,
    },
  ];

  // legend box of the landslide panel
  const lg = { left: 1257, top: 278, w: 111, h: 39 };
  const graphic = [
    { type: "rect", shape: { x: lg.left, y: lg.top, width: lg.w, height: lg.h }, style: { fill: "#fff", stroke: INK, lineWidth: 0.8 }, z: 10 },
    { type: "circle", shape: { cx: lg.left + 27, cy: lg.top + 11, r: 1.6 }, style: { fill: "#000" }, z: 11 },
    {
      type: "text", x: lg.left + 53, y: lg.top + 12,
      style: { text: "Observed", font: `${LEGEND_SIZE}px ${FONT}`, fill: "#000", verticalAlign: "middle" }, z: 11,
    },
    { type: "line", shape: { x1: lg.left + 5, y1: lg.top + 29, x2: lg.left + 30, y2: lg.top + 29 }, style: { stroke: "#000", lineWidth: 0.8 }, z: 11 },
    {
      type: "text", x: lg.left + 53, y: lg.top + 29,
      style: { text: "Expected", font: `${LEGEND_SIZE}px ${FONT}`, fill: "#000", verticalAlign: "middle" }, z: 11,
    },
  ];

  return {
    animation: false,
    backgroundColor: "#fff",
    grid: panels.map((p) => ({ left: LEFT, right: RIGHT, top: p.top, height: p.height, containLabel: false })),
    xAxis,
    yAxis,
    series,
    graphic,
  };
}

export default function App() {
  const ref = useRef<HTMLDivElement>(null);
  useEffect(() => {
    if (!ref.current) return;
    const chart = echarts.init(ref.current, undefined, { renderer: "svg", width: W, height: H });
    chart.setOption(buildOption() as any);
    return () => chart.dispose();
  }, []);
  return (
    <div style={{ position: "absolute", left: 0, top: 0, width: H, height: W, overflow: "hidden", background: "#fff" }}>
      <div
        ref={ref}
        style={{
          position: "absolute",
          left: 0,
          top: 0,
          width: W,
          height: H,
          transformOrigin: "0 0",
          transform: `translateY(${W}px) rotate(-90deg)`,
        }}
      />
    </div>
  );
}
